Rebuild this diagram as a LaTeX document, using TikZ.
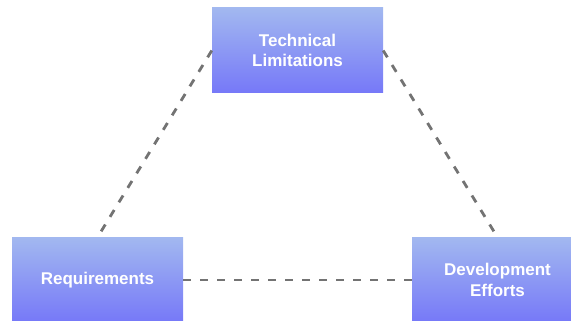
\documentclass[tikz,border=0pt]{standalone}
\usepackage{fontspec}
\setmainfont{Liberation Sans}
\begin{document}
\begin{tikzpicture}[x=1pt,y=1pt,
  box/.style={minimum width=171pt,minimum height=85pt,inner sep=0pt,
    top color={rgb,255:red,162;green,184;blue,240},
    bottom color={rgb,255:red,118;green,120;blue,248},
    text=white,align=center,
    font=\fontsize{17}{20.5}\selectfont\bfseries},
  link/.style={draw={rgb,255:red,115;green,115;blue,115},line width=2.8pt,
    dash pattern=on 8pt off 9pt}]
\useasboundingbox (0,0) rectangle (571,321);
\node[box] (tech) at (297.5,270.5) {Technical\\Limitations};
\node[box] (req) at (97.5,41) {Requirements};
\node[box] (dev) at (497.5,41) {Development\\Efforts};
\draw[link] (tech.west) -- (req.north);
\draw[link] (tech.east) -- (dev.north);
\draw[link] (req.east) -- (dev.west);
\end{tikzpicture}
\end{document}
